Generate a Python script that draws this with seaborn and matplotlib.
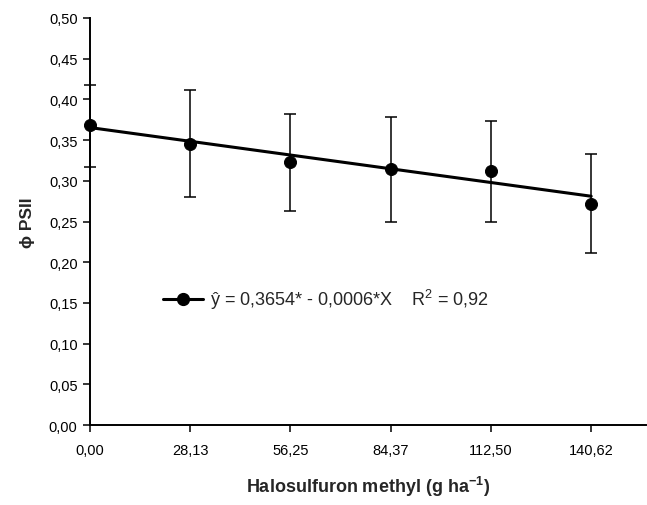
import matplotlib
matplotlib.use("Agg")
import matplotlib.pyplot as plt
import seaborn as sns
import numpy as np
import pandas as pd
from matplotlib.lines import Line2D

# data
doses = [0.00, 28.13, 56.25, 84.37, 112.50, 140.62]
dose_labels = ["0,00", "28,13", "56,25", "84,37", "112,50", "140,62"]
phi_psii = [0.368, 0.345, 0.323, 0.3145, 0.3125, 0.272]
err_low = [0.051, 0.065, 0.060, 0.0655, 0.0625, 0.061]
err_high = [0.050, 0.066, 0.0595, 0.0635, 0.061, 0.061]
intercept = 0.3654
slope = -0.0006
yticks = [0.00, 0.05, 0.10, 0.15, 0.20, 0.25, 0.30, 0.35, 0.40, 0.45, 0.50]

sns.set_style("ticks")
plt.rcParams['font.family'] = ['Liberation Sans', 'DejaVu Sans']
plt.rcParams['mathtext.fontset'] = 'custom'
plt.rcParams['mathtext.rm'] = 'Liberation Sans'
plt.rcParams['mathtext.bf'] = 'Liberation Sans:bold'

fig = plt.figure(figsize=(6.47, 5.06), dpi=100)
ax = fig.add_axes([90/647, 1-426/506, 556/647, 407/506])

df = pd.DataFrame({"dose": doses, "phi": phi_psii})
fit_x = np.array([doses[0], doses[-1]])
fit_df = pd.DataFrame({"dose": fit_x, "fit": intercept + slope * fit_x})

eb = ax.errorbar(doses, phi_psii, yerr=[err_low, err_high], fmt='none',
                 ecolor='black', elinewidth=1.1, capsize=4.2, capthick=1.1, zorder=2)
for art in eb.lines[1]:
    art.set_clip_on(False)
for art in eb.lines[2]:
    art.set_clip_on(False)
sns.lineplot(data=fit_df, x="dose", y="fit", ax=ax, color='black', lw=2.2, zorder=3)
sns.scatterplot(data=df, x="dose", y="phi", ax=ax, color='black', s=75,
                edgecolor='black', zorder=4, clip_on=False)

ax.set_xlim(0, 156)
ax.set_ylim(0, 0.5)
ax.set_xticks(doses)
ax.set_xticklabels(dose_labels)
ax.set_yticks(yticks)
ax.set_yticklabels([f"{v:.2f}".replace('.', ',') for v in yticks])
ax.tick_params(axis='both', direction='out', length=5, width=1.1, labelsize=10.5,
               color='black', labelcolor='black', pad=4)
ax.tick_params(axis='x', pad=8)
for s in ['top', 'right']:
    ax.spines[s].set_visible(False)
for s in ['left', 'bottom']:
    ax.spines[s].set_color('black')
    ax.spines[s].set_linewidth(1.4)

ax.set_xlabel(r"Halosulfuron methyl (g ha$^{\mathbf{-1}}$)", fontsize=13, fontweight='bold', labelpad=12)
ax.set_ylabel("\u03d5 PSII", fontsize=12.5, fontweight='bold', labelpad=10)

handle = Line2D([], [], color='black', lw=2.2, marker='o', markersize=8.5)
ax.legend([handle], ["\u0177 = 0,3654* - 0,0006*X    R$^2$ = 0,92"], loc='center left',
          bbox_to_anchor=(0.131, 0.31), frameon=False, fontsize=13, handlelength=2.2,
          handletextpad=0.4, borderpad=0, borderaxespad=0)

fig.savefig("out.png", dpi=100)
